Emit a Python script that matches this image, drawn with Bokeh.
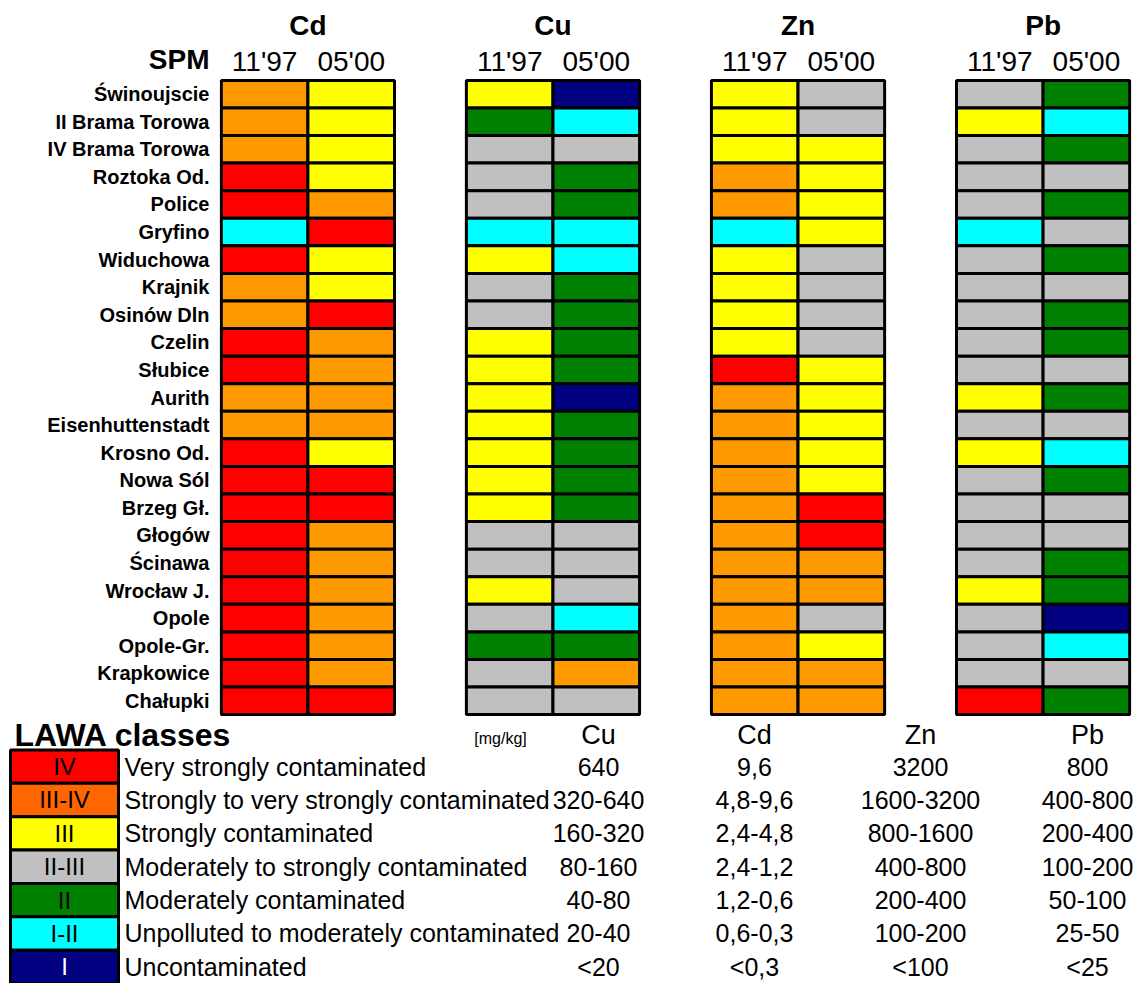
from bokeh.plotting import figure
from bokeh.models import FactorRange, Range1d, ColumnDataSource
from bokeh.embed import file_html
from bokeh.resources import INLINE
from bokeh.core.properties import value

FONT = "Liberation Sans"

# ---------------- data ----------------
stations = ["Świnoujscie", "II Brama Torowa", "IV Brama Torowa", "Roztoka Od.", "Police",
            "Gryfino", "Widuchowa", "Krajnik", "Osinów Dln", "Czelin", "Słubice", "Aurith",
            "Eisenhuttenstadt", "Krosno Od.", "Nowa Sól", "Brzeg Gł.", "Głogów", "Ścinawa",
            "Wrocław J.", "Opole", "Opole-Gr.", "Krapkowice", "Chałupki"]
metals = ["Cd", "Cu", "Zn", "Pb"]
dates = ["11'97", "05'00"]

cd_1197 = ["III-IV", "III-IV", "III-IV", "IV", "IV", "I-II", "IV", "III-IV", "III-IV", "IV", "IV", "III-IV",
           "III-IV", "IV", "IV", "IV", "IV", "IV", "IV", "IV", "IV", "IV", "IV"]
cd_0500 = ["III", "III", "III", "III", "III-IV", "IV", "III", "III", "IV", "III-IV", "III-IV", "III-IV",
           "III-IV", "III", "IV", "IV", "III-IV", "III-IV", "III-IV", "III-IV", "III-IV", "III-IV", "IV"]
cu_1197 = ["III", "II", "II-III", "II-III", "II-III", "I-II", "III", "II-III", "II-III", "III", "III", "III",
           "III", "III", "III", "III", "II-III", "II-III", "III", "II-III", "II", "II-III", "II-III"]
cu_0500 = ["I", "I-II", "II-III", "II", "II", "I-II", "I-II", "II", "II", "II", "II", "I",
           "II", "II", "II", "II", "II-III", "II-III", "II-III", "I-II", "II", "III-IV", "II-III"]
zn_1197 = ["III", "III", "III", "III-IV", "III-IV", "I-II", "III", "III", "III", "III", "IV", "III-IV",
           "III-IV", "III-IV", "III-IV", "III-IV", "III-IV", "III-IV", "III-IV", "III-IV", "III-IV", "III-IV", "III-IV"]
zn_0500 = ["II-III", "II-III", "III", "III", "III", "III", "II-III", "II-III", "II-III", "II-III", "III", "III",
           "III", "III", "III", "IV", "IV", "III-IV", "III-IV", "II-III", "III", "III-IV", "III-IV"]
pb_1197 = ["II-III", "III", "II-III", "II-III", "II-III", "I-II", "II-III", "II-III", "II-III", "II-III", "II-III", "III",
           "II-III", "III", "II-III", "II-III", "II-III", "II-III", "III", "II-III", "II-III", "II-III", "IV"]
pb_0500 = ["II", "I-II", "II", "II-III", "II", "II-III", "II", "II-III", "II", "II", "II-III", "II",
           "II-III", "I-II", "II", "II-III", "II-III", "II", "II", "I", "I-II", "II-III", "II"]

classes = ["IV", "III-IV", "III", "II-III", "II", "I-II", "I"]
class_desc = ["Very strongly contaminated", "Strongly to very strongly contaminated",
              "Strongly contaminated", "Moderately to strongly contaminated",
              "Moderately contaminated", "Unpolluted to moderately contaminated", "Uncontaminated"]
limit_metals = ["Cu", "Cd", "Zn", "Pb"]
cu_limits = ["640", "320-640", "160-320", "80-160", "40-80", "20-40", "<20"]
cd_limits = ["9,6", "4,8-9,6", "2,4-4,8", "2,4-1,2", "1,2-0,6", "0,6-0,3", "<0,3"]
zn_limits = ["3200", "1600-3200", "800-1600", "400-800", "200-400", "100-200", "<100"]
pb_limits = ["800", "400-800", "200-400", "100-200", "50-100", "25-50", "<25"]

# ---------------- styles ----------------
grid_colors = {"IV": "#FF0000", "III-IV": "#FF9900", "III": "#FFFF00", "II-III": "#C0C0C0",
               "II": "#008000", "I-II": "#00FFFF", "I": "#000080"}
legend_colors = {"IV": "#FF0000", "III-IV": "#FF6600", "III": "#FFFF00", "II-III": "#C0C0C0",
                 "II": "#008000", "I-II": "#00FFFF", "I": "#000080"}

series = {("Cd", "11'97"): cd_1197, ("Cd", "05'00"): cd_0500,
          ("Cu", "11'97"): cu_1197, ("Cu", "05'00"): cu_0500,
          ("Zn", "11'97"): zn_1197, ("Zn", "05'00"): zn_0500,
          ("Pb", "11'97"): pb_1197, ("Pb", "05'00"): pb_0500}

W = 1143
LEFT, RIGHT = 219, 12


def clean(p):
    p.grid.visible = False
    p.outline_line_color = None
    for ax in p.yaxis:
        ax.axis_line_color = None
        ax.major_tick_line_color = None
        ax.minor_tick_line_color = None
        ax.major_label_text_font = FONT
        ax.major_label_text_font_style = "bold"
        ax.major_label_text_color = "black"
        ax.major_label_standoff = 4


x_factors = [(m, d) for m in metals for d in dates]
xr = FactorRange(*x_factors, group_padding=0.83, range_padding=0.004)

# ---------------- header (metal names, dates, SPM) ----------------
hdr = figure(width=W, height=78, x_range=xr, y_range=FactorRange("SPM", " "),
             x_axis_location=None, output_backend="svg", toolbar_location=None,
             min_border_left=LEFT, min_border_right=RIGHT, min_border_top=0, min_border_bottom=0)
clean(hdr)
hdr.yaxis[0].major_label_text_font_size = "28px"
hdr.text(x=x_factors, y=["SPM"] * len(x_factors), text=[d for m, d in x_factors],
         text_align="center", text_baseline="middle", text_color="black", y_offset=2,
         text_font=value(FONT), text_font_size="28px")
metal_src = ColumnDataSource(dict(x=[(m, dates[0], 0.5) for m in metals], y=[" "] * len(metals), t=metals))
hdr.text(x="x", y="y", text="t", source=metal_src, text_align="center", text_baseline="middle",
         text_color="black", y_offset=5, text_font=value(FONT), text_font_size="28px",
         text_font_style="bold")

# ---------------- grid of classes ----------------
top = figure(width=W, height=638, x_range=xr, y_range=FactorRange(*stations[::-1], range_padding=0.006),
             x_axis_location=None, output_backend="svg", toolbar_location=None,
             min_border_left=LEFT, min_border_right=RIGHT, min_border_top=0, min_border_bottom=0)
xs, ys, cs = [], [], []
for key in x_factors:
    for st, cl in zip(stations, series[key]):
        xs.append(key)
        ys.append(st)
        cs.append(grid_colors[cl])
top.rect(x=xs, y=ys, width=1, height=1, fill_color=cs, line_color="black", line_width=3)
clean(top)
top.yaxis[0].major_label_text_font_size = "20px"

# ---------------- legend table ----------------
BOX_X, BOX_W = 64, 108
DESC_X = 124
UNIT_X = 500
COL_X = {"Cu": 598, "Cd": 754, "Zn": 920, "Pb": 1087}
limits = {"Cu": cu_limits, "Cd": cd_limits, "Zn": zn_limits, "Pb": pb_limits}

rows = classes[::-1] + ["hdr"]
bot = figure(width=W, height=267, x_range=Range1d(0, W), y_range=FactorRange(*rows),
             output_backend="svg", toolbar_location=None,
             min_border_left=0, min_border_right=0, min_border_top=0, min_border_bottom=0)
bot.axis.visible = False
bot.grid.visible = False
bot.outline_line_color = None

bot.rect(x=[BOX_X] * len(classes), y=classes, width=BOX_W, height=1,
         fill_color=[legend_colors[c] for c in classes], line_color="black", line_width=3)
bot.text(x=[BOX_X] * len(classes), y=classes, text=classes,
         text_color=["white" if c == "I" else "black" for c in classes],
         text_align="center", text_baseline="middle", text_font=value(FONT), text_font_size="24px")
bot.text(x=[DESC_X] * len(classes), y=classes, text=class_desc, text_color="black",
         text_align="left", text_baseline="middle", text_font=value(FONT), text_font_size="25px")
for m in limit_metals:
    bot.text(x=[COL_X[m]] * len(classes), y=classes, text=limits[m], text_color="black",
             text_align="center", text_baseline="middle", text_font=value(FONT), text_font_size="25px")
bot.text(x=[COL_X[m] for m in limit_metals], y=["hdr"] * 4, text=limit_metals, text_color="black",
         text_align="center", text_baseline="middle", text_font=value(FONT), text_font_size="27px",
         y_offset=2)
bot.text(x=[14], y=["hdr"], text=["LAWA classes"], text_color="black", text_align="left",
         text_baseline="middle", text_font=value(FONT), text_font_size="32px", text_font_style="bold",
         y_offset=2)
bot.text(x=[UNIT_X], y=["hdr"], text=["[mg/kg]"], text_color="black", text_align="center",
         text_baseline="middle", text_font=value(FONT), text_font_size="16px", y_offset=5)

open("out.html", "w").write(file_html([hdr, top, bot], INLINE))
